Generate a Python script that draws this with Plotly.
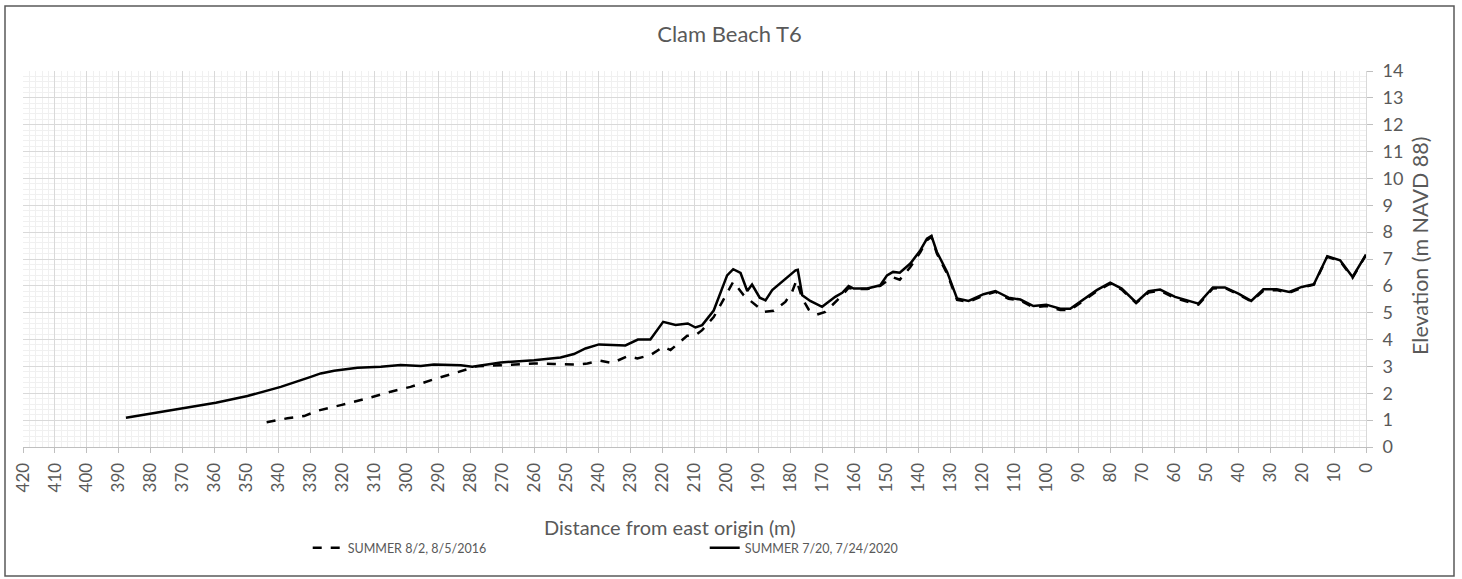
import plotly.graph_objects as go

# SUMMER 8/2, 8/5/2016 (dashed)
dist_2016 = [343.8, 337.3, 332.1, 327.9, 320.6, 312.3, 305.0, 298.8, 291.5, 281.0, 277.9, 270.6,
             260.2, 253.9, 246.7, 243.5, 239.4, 235.7, 231.0, 227.9, 223.8, 219.8, 217.5, 212.3,
             209.7, 207.6, 204.0, 201.9, 197.9, 194.6, 191.5, 188.3, 185.2, 181.6, 179.5, 178.1,
             176.3, 174.3, 171.7, 169.1, 165.4, 161.8, 160.2, 156.0, 151.9, 149.8, 147.7, 145.8,
             142.5, 139.4, 137.3, 135.9, 134.2, 131.0, 127.9, 124.3, 119.6, 115.9, 111.8, 108.1,
             104.0, 100.0, 95.6, 92.5, 84.2, 80.0, 76.4, 71.9, 68.0, 64.4, 59.7, 52.4, 47.9, 44.1,
             39.9, 35.9, 32.1, 27.9, 24.0, 20.1, 16.3, 12.1, 8.1, 4.2, 0.0]
elev_2016 = [0.92, 1.07, 1.15, 1.35, 1.56, 1.81, 2.06, 2.24, 2.52, 2.92, 3.01, 3.04,
             3.11, 3.09, 3.07, 3.11, 3.21, 3.13, 3.38, 3.30, 3.42, 3.73, 3.61, 4.14,
             4.16, 4.35, 4.84, 5.28, 6.15, 5.65, 5.34, 5.03, 5.07, 5.40, 5.77, 6.21,
             5.53, 5.12, 4.93, 5.03, 5.46, 5.92, 5.88, 5.88, 6.00, 6.18, 6.31, 6.23,
             6.70, 7.25, 7.70, 7.83, 7.20, 6.45, 5.48, 5.40, 5.64, 5.78, 5.52, 5.45,
             5.20, 5.25, 5.10, 5.10, 5.80, 6.08, 5.86, 5.36, 5.75, 5.82, 5.54, 5.30, 5.90, 5.92,
             5.68, 5.42, 5.82, 5.84, 5.74, 5.93, 6.04, 7.08, 6.92, 6.30, 7.15]

# SUMMER 7/20, 7/24/2020 (solid)
dist_2020 = [387.8, 380.0, 370.6, 359.7, 349.8, 339.4, 330.0, 326.9, 322.7, 315.4, 308.1, 301.9,
             295.6, 291.5, 283.1, 279.5, 270.6, 260.2, 251.9, 247.7, 244.1, 239.9, 231.6, 227.7,
             223.8, 219.8, 215.9, 212.1, 209.7, 207.6, 204.0, 199.8, 197.9, 195.6, 193.5, 192.0,
             189.6, 187.8, 185.7, 178.4, 177.7, 176.3, 173.8, 170.1, 166.0, 163.8, 161.8, 160.2,
             156.0, 151.9, 149.8, 147.9, 145.8, 142.5, 139.4, 137.3, 135.9, 134.2, 131.0, 127.9,
             124.3, 119.6, 115.9, 111.8, 108.1, 104.0, 100.0, 95.6, 92.5, 84.2, 80.0, 76.4, 71.9,
             68.0, 64.4, 59.7, 52.4, 47.9, 44.1, 39.9, 35.9, 32.1, 27.9, 24.0, 20.1, 16.3, 12.1,
             8.1, 4.2, 0.0]
elev_2020 = [1.09, 1.25, 1.44, 1.65, 1.90, 2.24, 2.61, 2.74, 2.84, 2.95, 2.99, 3.05,
             3.02, 3.07, 3.04, 2.99, 3.15, 3.23, 3.33, 3.46, 3.67, 3.82, 3.78, 4.00,
             4.00, 4.66, 4.54, 4.60, 4.45, 4.54, 5.08, 6.39, 6.62, 6.48, 5.81, 6.05,
             5.56, 5.46, 5.84, 6.58, 6.60, 5.65, 5.44, 5.22, 5.59, 5.74, 5.99, 5.90,
             5.90, 6.02, 6.39, 6.52, 6.49, 6.83, 7.32, 7.76, 7.86, 7.26, 6.52, 5.53,
             5.44, 5.69, 5.81, 5.56, 5.49, 5.25, 5.30, 5.15, 5.15, 5.84, 6.12, 5.90, 5.38,
             5.80, 5.86, 5.59, 5.34, 5.94, 5.94, 5.71, 5.44, 5.87, 5.87, 5.77, 5.96, 6.06, 7.10,
             6.95, 6.33, 7.16]

GREY = "#595959"
FONT = "Lato, 'Open Sans', sans-serif"

fig = go.Figure()
fig.add_trace(go.Scatter(x=dist_2016, y=elev_2016, mode="lines", name="SUMMER 8/2, 8/5/2016",
                         line={"color": "black", "width": 2.5, "dash": "dash"}))
fig.add_trace(go.Scatter(x=dist_2020, y=elev_2020, mode="lines", name="SUMMER 7/20, 7/24/2020",
                         line={"color": "black", "width": 2.5}))

fig.update_layout(
    width=1462,
    height=579,
    margin={"l": 23, "r": 96, "t": 71, "b": 132},
    paper_bgcolor="white",
    plot_bgcolor="white",
    font={"family": FONT, "color": GREY},
    title={"text": "Clam Beach T6", "x": 0.499, "xref": "container", "y": 0.94, "yanchor": "middle",
           "font": {"size": 22, "color": GREY, "family": FONT}},
    xaxis={
        "range": [420, 0],
        "tickmode": "linear", "tick0": 0, "dtick": 10,
        "tickangle": -90,
        "tickfont": {"size": 17, "color": GREY},
        "ticks": "outside", "ticklen": 5, "tickcolor": "#bfbfbf",
        "ticklabelstandoff": 3,
        "showline": True, "linecolor": "#bfbfbf", "linewidth": 1,
        "showgrid": True, "gridcolor": "#d9d9d9", "gridwidth": 1,
        "minor": {"dtick": 2, "showgrid": True, "gridcolor": "#f0f0f0", "gridwidth": 1},
        "zeroline": False,
    },
    yaxis={
        "range": [0, 14],
        "side": "right",
        "tickmode": "linear", "tick0": 0, "dtick": 1,
        "tickfont": {"size": 18, "color": GREY},
        "ticks": "outside", "ticklen": 6, "tickcolor": "#bfbfbf",
        "ticklabelstandoff": 6,
        "showline": True, "linecolor": "#d9d9d9", "linewidth": 1,
        "showgrid": True, "gridcolor": "#d9d9d9", "gridwidth": 1,
        "minor": {"dtick": 0.2, "showgrid": True, "gridcolor": "#f0f0f0", "gridwidth": 1},
        "zeroline": False,
    },
    legend={
        "orientation": "h", "x": 0.212, "xanchor": "left", "y": -0.269, "yanchor": "middle",
        "entrywidth": 352, "entrywidthmode": "pixels",
        "font": {"size": 12.5, "color": GREY}, "bgcolor": "rgba(0,0,0,0)",
    },
    showlegend=True,
)

fig.add_annotation(text="Distance from east origin (m)", xref="paper", yref="paper",
                   x=(670 - 23) / 1343, y=(447 - 527) / 376, showarrow=False,
                   font={"size": 20, "color": GREY}, xanchor="center", yanchor="middle")
fig.add_annotation(text="Elevation (m NAVD 88)", xref="paper", yref="paper",
                   x=(1420 - 23) / 1343, y=(447 - 246) / 376, showarrow=False, textangle=-90,
                   font={"size": 21.5, "color": GREY}, xanchor="center", yanchor="middle")

# chart-area border
fig.add_shape(type="rect", xref="paper", yref="paper",
              x0=(5 - 23) / 1343, x1=(1454 - 23) / 1343,
              y0=(447 - 576) / 376, y1=(447 - 6) / 376,
              line={"color": "#595959", "width": 1.5}, fillcolor="rgba(0,0,0,0)", layer="below")

fig.write_html("out.html", config={"displayModeBar": False},
               post_script="document.body.style.margin='0';document.body.style.overflow='hidden';")
